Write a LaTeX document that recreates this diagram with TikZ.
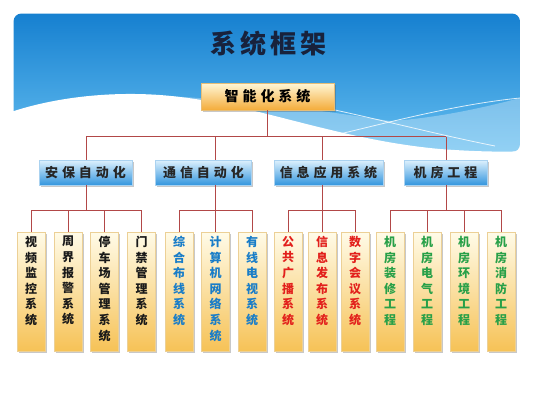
\documentclass[tikz,border=0pt]{standalone}
\usepackage{fontspec}
\setmainfont{Noto Sans CJK SC}
\usetikzlibrary{shadows}
\definecolor{bgTop}{RGB}{22,128,208}
\definecolor{bgBot}{RGB}{100,190,240}
\definecolor{orTop}{RGB}{255,247,215}
\definecolor{orBot}{RGB}{244,172,58}
\definecolor{orEdge}{RGB}{230,190,120}
\definecolor{blTop}{RGB}{222,241,253}
\definecolor{blBot}{RGB}{52,150,222}
\definecolor{blEdge}{RGB}{170,210,240}
\definecolor{yeTop}{RGB}{255,251,232}
\definecolor{yeBot}{RGB}{246,194,86}
\definecolor{yeEdge}{RGB}{236,208,150}
\definecolor{lineC}{RGB}{178,72,72}
\definecolor{titleC}{RGB}{24,34,60}
\definecolor{blueT}{RGB}{25,125,200}
\definecolor{redT}{RGB}{226,32,28}
\definecolor{greenT}{RGB}{40,160,72}
\begin{document}
\begin{tikzpicture}[x=1pt,y=-1pt,
  conn/.style={draw=lineC,line width=0.8pt},
  shad/.style={drop shadow={shadow xshift=1.8pt,shadow yshift=-1.8pt,opacity=0.3,fill=black!70}},
  topbox/.style={rectangle,shad,top color=orTop,bottom color=orBot,draw=orEdge,line width=0.4pt,
    minimum width=133pt,minimum height=27pt,inner sep=0pt,
    font=\fontsize{14}{14}\selectfont\bfseries\addfontfeature{LetterSpace=28}},
  lvltwo/.style={rectangle,shad,top color=blTop,bottom color=blBot,draw=blEdge,line width=0.4pt,
    minimum height=25pt,inner sep=0pt,text=black!85,
    font=\fontsize{13}{13}\selectfont\bfseries\addfontfeature{LetterSpace=30}},
  lvlthree/.style={rectangle,shad,top color=yeTop,bottom color=yeBot,draw=yeEdge,line width=0.4pt,
    anchor=north,inner xsep=7pt,inner ysep=4pt,
    font=\fontsize{12}{15.6}\selectfont\bfseries},
]
\useasboundingbox (0,0) rectangle (533,400);
\fill[white] (0,0) rectangle (533,400);
% header background
\shade[top color=bgTop,bottom color=bgBot,rounded corners=8pt] (13.5,13.5) rectangle (520,152);
\fill[white,opacity=0.3] (165,96) .. controls (250,100) and (330,112) .. (390,121)
  .. controls (440,118) and (490,106) .. (520,98) -- (520,152) -- (300,152) -- cycle;
\fill[white] (8,113) .. controls (60,95) and (125,90) .. (180,97)
  .. controls (260,106) and (340,140) .. (440,149)
  .. controls (480,152) and (510,152) .. (525,151) -- (525,160) -- (8,160) -- cycle;
\draw[white,opacity=0.8,line width=0.8pt] (335,110) .. controls (390,122) and (440,135) .. (495,146);
\draw[white,opacity=0.8,line width=0.8pt] (318,139) .. controls (380,125) and (450,105) .. (520,98);
% title
\node[text=titleC,font=\fontsize{26}{26}\selectfont\bfseries\addfontfeature{LetterSpace=15}] (title) at (268.5,44) {系统框架};
% top box
\node[topbox] (top) at (267.5,96.5) {智能化系统};
% level 2
\node[lvltwo,minimum width=93pt] (a1) at (85.5,172.5) {安保自动化};
\node[lvltwo,minimum width=96pt] (a2) at (203.5,172.5) {通信自动化};
\node[lvltwo,minimum width=109pt] (a3) at (328.5,172.5) {信息应用系统};
\node[lvltwo,minimum width=83pt] (a4) at (445.5,172.5) {机房工程};
% level 3
\newcommand{\vt}[1]{\parbox[c][111pt][t]{14pt}{\centering #1}}
\node[lvlthree,text=black!90] (n11) at (31,232) {\vt{视\\频\\监\\控\\系\\统}};
\node[lvlthree,text=black!90] (n12) at (68,232) {\vt{周\\界\\报\\警\\系\\统}};
\node[lvlthree,text=black!90] (n13) at (104.5,232) {\vt{停\\车\\场\\管\\理\\系\\统}};
\node[lvlthree,text=black!90] (n14) at (141.5,232) {\vt{门\\禁\\管\\理\\系\\统}};
\node[lvlthree,text=blueT] (n21) at (179,232) {\vt{综\\合\\布\\线\\系\\统}};
\node[lvlthree,text=blueT] (n22) at (215.5,232) {\vt{计\\算\\机\\网\\络\\系\\统}};
\node[lvlthree,text=blueT] (n23) at (252,232) {\vt{有\\线\\电\\视\\系\\统}};
\node[lvlthree,text=redT] (n31) at (288,232) {\vt{公\\共\\广\\播\\系\\统}};
\node[lvlthree,text=redT] (n32) at (322,232) {\vt{信\\息\\发\\布\\系\\统}};
\node[lvlthree,text=redT] (n33) at (355,232) {\vt{数\\字\\会\\议\\系\\统}};
\node[lvlthree,text=greenT] (n41) at (390,232) {\vt{机\\房\\装\\修\\工\\程}};
\node[lvlthree,text=greenT] (n42) at (427,232) {\vt{机\\房\\电\\气\\工\\程}};
\node[lvlthree,text=greenT] (n43) at (464,232) {\vt{机\\房\\环\\境\\工\\程}};
\node[lvlthree,text=greenT] (n44) at (501,232) {\vt{机\\房\\消\\防\\工\\程}};
% connectors
\coordinate (busT) at (267.5,136.7);
\coordinate (b1) at (86,136.7);
\coordinate (b2) at (215,136.7);
\coordinate (b3) at (322,136.7);
\coordinate (b4) at (446,136.7);
\coordinate (c1) at (86,210);
\coordinate (c2) at (215,210);
\coordinate (c3) at (322,210);
\coordinate (c4) at (446,210);
\draw[conn] (top.south) -- (busT);
\draw[conn] (b1) -- (b4);
\foreach \i in {1,2,3,4}{
  \draw[conn] (b\i) -- (b\i |- a\i.north);
  \draw[conn] (c\i |- a\i.south) -- (c\i);
}
\draw[conn] (n11.north |- c1) -- (n14.north |- c1);
\draw[conn] (n21.north |- c2) -- (n23.north |- c2);
\draw[conn] (n31.north |- c3) -- (n33.north |- c3);
\draw[conn] (n41.north |- c4) -- (n44.north |- c4);
\foreach \n/\c in {n11/c1,n12/c1,n13/c1,n14/c1,n21/c2,n22/c2,n23/c2,n31/c3,n32/c3,n33/c3,n41/c4,n42/c4,n43/c4,n44/c4}{
  \draw[conn] (\n.north |- \c) -- (\n.north);
}
\end{tikzpicture}
\end{document}
